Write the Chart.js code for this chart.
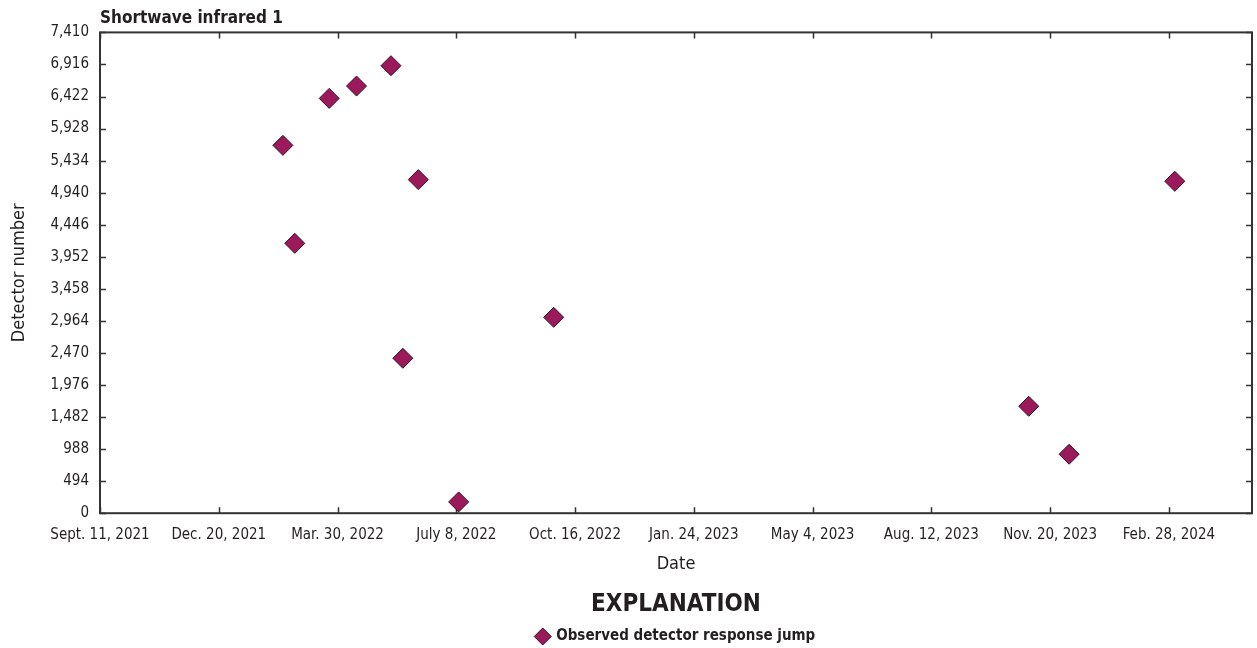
<!DOCTYPE html>
<html>
<head>
<meta charset="utf-8">
<title>Shortwave infrared 1</title>
<script src="https://cdn.jsdelivr.net/npm/chart.js@4.4.1/dist/chart.umd.min.js"></script>
<style>
  html, body { margin: 0; padding: 0; background: #fff; }
  #wrap { width: 1257px; height: 648px; position: relative; }
</style>
</head>
<body>
<div id="wrap"><canvas id="chart"></canvas></div>
<script>
'use strict';

// --- data ---
const START_DATE = '2021-09-11';
const eventDates = [
    '2022-02-12', '2022-02-22', '2022-03-23', '2022-04-15', '2022-05-14', '2022-05-24',
    '2022-06-06', '2022-07-10', '2022-09-28', '2023-11-02', '2023-12-06', '2024-03-04'
];
const detectorNumbers = [5669, 4159, 6393, 6583, 6897, 2388, 5141, 174, 3019, 1648, 909, 5115];

// x ticks every 100 days from the start date
const xTickDays = [0, 100, 200, 300, 400, 500, 600, 700, 800, 900];
const xTickLabels = [
    'Sept. 11, 2021', 'Dec. 20, 2021', 'Mar. 30, 2022', 'July 8, 2022', 'Oct. 16, 2022',
    'Jan. 24, 2023', 'May 4, 2023', 'Aug. 12, 2023', 'Nov. 20, 2023', 'Feb. 28, 2024'
];
const X_MAX_DAYS = 970;

const yTicks = [0, 494, 988, 1482, 1976, 2470, 2964, 3458, 3952, 4446, 4940, 5434, 5928, 6422, 6916, 7410];

// --- style ---
const FONT = '"Liberation Sans Narrow", "DejaVu Sans Condensed", "Arial Narrow", sans-serif';
const INK = '#231f20';
const AXIS = '#333333';
const MARKER_FILL = '#9a1a5b';
const MARKER_EDGE = '#3b0d22';

function dayOffset(iso) {
    return (Date.parse(iso) - Date.parse(START_DATE)) / 86400000;
}

// frame around the plot with inward tick marks on all four sides
const frameTicks = {
    id: 'frameTicks',
    beforeDatasetsDraw(chart) {
        const { ctx, chartArea: a, scales: { x, y } } = chart;
        const len = 6;
        ctx.save();
        ctx.strokeStyle = AXIS;
        ctx.lineWidth = 1.5;
        ctx.beginPath();
        x.ticks.forEach(t => {
            const px = Math.round(x.getPixelForValue(t.value)) + 0.5;
            ctx.moveTo(px, a.bottom); ctx.lineTo(px, a.bottom - len);
            ctx.moveTo(px, a.top); ctx.lineTo(px, a.top + len);
        });
        y.ticks.forEach(t => {
            const py = Math.round(y.getPixelForValue(t.value)) + 0.5;
            ctx.moveTo(a.left, py); ctx.lineTo(a.left + len, py);
            ctx.moveTo(a.right, py); ctx.lineTo(a.right - len, py);
        });
        ctx.stroke();
        ctx.lineWidth = 2;
        ctx.strokeRect(a.left, a.top, a.right - a.left, a.bottom - a.top);
        ctx.restore();
    }
};

const points = eventDates.map((d, i) => ({ x: dayOffset(d), y: detectorNumbers[i] }));

new Chart(document.getElementById('chart'), {
    type: 'scatter',
    data: {
        datasets: [{
            label: 'Observed detector response jump',
            data: points,
            pointStyle: 'rectRot',
            pointRadius: 10,
            pointHoverRadius: 10,
            backgroundColor: MARKER_FILL,
            borderColor: MARKER_EDGE,
            borderWidth: 1
        }]
    },
    options: {
        responsive: true,
        maintainAspectRatio: false,
        animation: false,
        layout: {
            // big markers would otherwise pull the right edge in
            autoPadding: false,
            padding: { left: 0, right: 5, top: 0, bottom: -6 }
        },
        scales: {
            x: {
                type: 'linear',
                min: 0,
                max: X_MAX_DAYS,
                afterBuildTicks: s => { s.ticks = xTickDays.map(v => ({ value: v })); },
                afterFit: s => { s.height = 74; },
                grid: { display: false, drawTicks: false },
                border: { display: false },
                ticks: {
                    padding: 13,
                    maxRotation: 0,
                    autoSkip: false,
                    color: INK,
                    font: { family: FONT, size: 15 },
                    callback: v => xTickLabels[xTickDays.indexOf(v)]
                },
                title: {
                    display: true,
                    text: 'Date',
                    color: INK,
                    font: { family: FONT, size: 18 },
                    padding: { top: 0, bottom: 12 }
                }
            },
            y: {
                min: 0,
                max: 7410,
                afterBuildTicks: s => { s.ticks = yTicks.map(v => ({ value: v })); },
                afterFit: s => { s.width = 100; },
                grid: { display: false, drawTicks: false },
                border: { display: false },
                ticks: {
                    padding: 11,
                    autoSkip: false,
                    color: INK,
                    font: { family: FONT, size: 15 },
                    callback: v => v.toLocaleString('en-US')
                },
                title: {
                    display: true,
                    text: 'Detector number',
                    color: INK,
                    font: { family: FONT, size: 18 },
                    padding: { top: 9, bottom: 0 }
                }
            }
        },
        plugins: {
            title: {
                display: true,
                text: 'Shortwave infrared 1',
                align: 'start',
                fullSize: false,
                color: INK,
                font: { family: FONT, size: 17, weight: 'bold' },
                padding: { top: 8, bottom: 4 }
            },
            legend: {
                position: 'bottom',
                fullSize: false,
                title: {
                    display: true,
                    text: 'EXPLANATION',
                    color: INK,
                    font: { family: FONT, size: 24, weight: 'bold' },
                    padding: { top: 6, bottom: 3 }
                },
                labels: {
                    usePointStyle: true,
                    pointStyle: 'rectRot',
                    boxWidth: 12,
                    boxHeight: 12,
                    padding: 4,
                    color: INK,
                    font: { family: FONT, size: 15, weight: 'bold' }
                }
            },
            tooltip: { enabled: false }
        }
    },
    plugins: [frameTicks]
});
</script>
</body>
</html>
